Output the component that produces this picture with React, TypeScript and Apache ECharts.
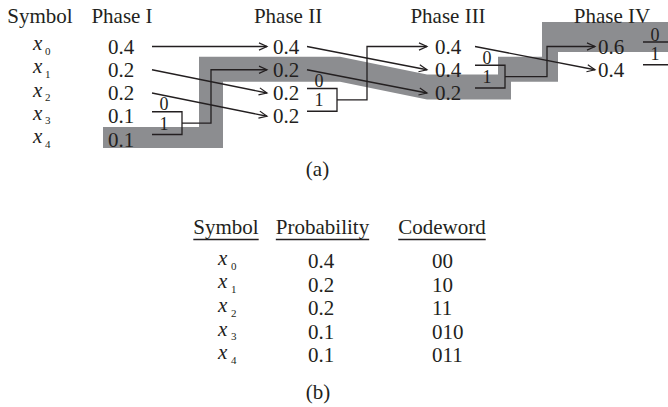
import React, { useEffect, useRef } from "react";
import * as echarts from "echarts";

// ---------------- data ----------------
const symbolIndices = ["0", "1", "2", "3", "4"];
const phaseNames = ["Phase I", "Phase II", "Phase III", "Phase IV"];
const phase1 = [0.4, 0.2, 0.2, 0.1, 0.1];
const phase2 = [0.4, 0.2, 0.2, 0.2];
const phase3 = [0.4, 0.4, 0.2];
const phase4 = [0.6, 0.4];
const phases = [phase1, phase2, phase3, phase4];
// re-ordering arrows: [from phase, from row, to row in next phase]
const moves = [
  [0, 0, 0],
  [0, 1, 2],
  [0, 2, 3],
  [1, 0, 1],
  [1, 1, 2],
  [2, 0, 1],
];
// merges of the two smallest: [phase, upper row of pair, row of sum in next phase]
const merges = [
  [0, 3, 1],
  [1, 2, 0],
  [2, 1, 0],
  [3, 0, -1],
];
const branchBits = ["0", "1"];
const highlightRows = [4, 1, 2, 0];
const tableHeaders = ["Symbol", "Probability", "Codeword"];
const probabilities = [0.4, 0.2, 0.2, 0.1, 0.1];
const codewords = ["00", "10", "11", "010", "011"];
const captions = ["(a)", "(b)"];

// ---------------- layout / style ----------------
const W = 668;
const H = 407;
const INK = "#231f20";
const BAND = "#8c8d90";
const FONT = '"Liberation Serif", "Times New Roman", serif';
const FS = 21;
const BIT_FS = 18;
const LAY = {
  headerY: 15.5,
  symbolHeaderX: 40,
  symbolX: 33,
  subDx: 12,
  rowY0: 46.5,
  rowDy: 23.25,
  phaseHeaderX: [122, 288, 448, 612],
  valLeft: [108, 273, 435, 598],
  outX: [152, 307, 475, 643],
  tipX: [0, 267, 427, 595],
  riseX: [211, 367, 547],
  bracketW: 30,
  bitDx: 12,
  captionA: [317.5, 169],
  tableHeaderY: 227,
  underlineY: 239.5,
  tableColX: [226, 322.5, 442],
  tableRowY0: 261,
  tableRowDy: 23.6,
  tableSymX: 218,
  tableProbX: 308,
  tableCodeX: 432,
  captionB: [318, 392],
};
const rowY = (r: number) => LAY.rowY0 + LAY.rowDy * r;
const tRowY = (r: number) => LAY.tableRowY0 + LAY.tableRowDy * r;
const bracket = (r: number) => {
  const yt = rowY(r) - 4.5;
  const yb = rowY(r + 1) - 5;
  return { yt, yb, ym: (yt + yb) / 2 };
};

function measure(text: string, size: number) {
  const c = document.createElement("canvas").getContext("2d");
  if (!c) return text.length * size * 0.5;
  c.font = `${size}px "Liberation Serif"`;
  return c.measureText(text).width;
}

type Txt = { t: string; x: number; y: number; align: string; size?: number; italic?: boolean };
type Seg = { pts: number[][]; arrow: boolean };

function buildTexts(): Txt[] {
  const T: Txt[] = [];
  T.push({ t: "Symbol", x: LAY.symbolHeaderX, y: LAY.headerY, align: "center" });
  phaseNames.forEach((n, k) => T.push({ t: n, x: LAY.phaseHeaderX[k], y: LAY.headerY, align: "center" }));
  symbolIndices.forEach((s, i) => {
    T.push({ t: "x", x: LAY.symbolX, y: rowY(i) - 3.3, align: "left", italic: true });
    T.push({ t: s, x: LAY.symbolX + LAY.subDx, y: rowY(i) + 4, align: "left", size: 11 });
  });
  phases.forEach((vals, k) =>
    vals.forEach((v, i) => T.push({ t: v.toFixed(1), x: LAY.valLeft[k], y: rowY(i), align: "left" }))
  );
  merges.forEach(([p, r]) => {
    const b = bracket(r);
    T.push({ t: branchBits[0], x: LAY.outX[p] + LAY.bitDx, y: b.yt - 7.5, align: "center", size: BIT_FS });
    T.push({ t: branchBits[1], x: LAY.outX[p] + LAY.bitDx, y: b.ym + 0.5, align: "center", size: BIT_FS });
  });
  T.push({ t: captions[0], x: LAY.captionA[0], y: LAY.captionA[1], align: "center" });
  tableHeaders.forEach((h, j) => T.push({ t: h, x: LAY.tableColX[j], y: LAY.tableHeaderY, align: "center" }));
  symbolIndices.forEach((s, i) => {
    T.push({ t: "x", x: LAY.tableSymX, y: tRowY(i) - 3.3, align: "left", italic: true });
    T.push({ t: s, x: LAY.tableSymX + LAY.subDx + 1, y: tRowY(i) + 4.5, align: "left", size: 11 });
    T.push({ t: probabilities[i].toFixed(1), x: LAY.tableProbX, y: tRowY(i), align: "left" });
    T.push({ t: codewords[i], x: LAY.tableCodeX, y: tRowY(i), align: "left" });
  });
  T.push({ t: captions[1], x: LAY.captionB[0], y: LAY.captionB[1], align: "center" });
  return T;
}

function buildSegs(): Seg[] {
  const S: Seg[] = [];
  moves.forEach(([p, a, b]) =>
    S.push({ pts: [[LAY.outX[p], rowY(a)], [LAY.tipX[p + 1], rowY(b)]], arrow: true })
  );
  merges.forEach(([p, r, t]) => {
    const x0 = LAY.outX[p];
    const x1 = x0 + LAY.bracketW;
    const { yt, yb, ym } = bracket(r);
    if (t < 0) {
      S.push({ pts: [[x0, yt], [W + 10, yt]], arrow: false });
      S.push({ pts: [[x0, yb], [W + 10, yb]], arrow: false });
    } else {
      S.push({ pts: [[x0, yt], [x1, yt], [x1, yb], [x0, yb]], arrow: false });
      S.push({
        pts: [[x1, ym], [LAY.riseX[p], ym], [LAY.riseX[p], rowY(t)], [LAY.tipX[p + 1], rowY(t)]],
        arrow: true,
      });
    }
  });
  tableHeaders.forEach((h, j) => {
    const w = measure(h, FS);
    const c = LAY.tableColX[j];
    S.push({ pts: [[c - w / 2, LAY.underlineY], [c + w / 2, LAY.underlineY]], arrow: false });
  });
  return S;
}

function buildBand(): number[][] {
  const [r1, r2, r3, r4] = highlightRows;
  const bm = bracket(merges[2][1]).ym;
  const yA = rowY(r1);
  const yB = rowY(r2);
  const yC = rowY(r3);
  const yD = rowY(r4);
  const x0 = LAY.valLeft[0] - 5;
  const v1 = LAY.riseX[0];
  const s2 = LAY.outX[1] + 33;
  const t3 = LAY.tipX[2];
  const e3 = LAY.outX[2] + 36;
  const st = LAY.outX[2] + 23;
  const v3 = LAY.riseX[2];
  return [
    [x0, yA - 12.5],
    [v1 - 12, yA - 12.5],
    [v1 - 12, yB - 13],
    [s2, yB - 13],
    [t3, yC - 18.5],
    [st, yC - 18.5],
    [st, bm - 20],
    [v3 - 5, bm - 20],
    [v3 - 5, yD - 24.5],
    [W + 10, yD - 24.5],
    [W + 10, yD + 5.5],
    [v3 + 11, yD + 5.5],
    [v3 + 11, bm + 5],
    [e3, bm + 5],
    [e3, yC + 6.5],
    [t3, yC + 6.5],
    [s2, yB + 12],
    [v1 + 12, yB + 12],
    [v1 + 12, yA + 8.5],
    [x0, yA + 8.5],
  ];
}

export default function App() {
  const ref = useRef<HTMLDivElement>(null);
  useEffect(() => {
    if (!ref.current) return;
    const chart = echarts.init(ref.current, undefined, { renderer: "svg" });
    const texts = buildTexts();
    const segs = buildSegs();
    const band = buildBand();
    chart.setOption({
      animation: false,
      backgroundColor: "#ffffff",
      grid: { left: 0, right: 0, top: 0, bottom: 0 },
      xAxis: { type: "value", min: 0, max: W, show: false },
      yAxis: { type: "value", min: 0, max: H, inverse: true, show: false },
      series: [
        {
          type: "custom",
          name: "band",
          silent: true,
          z: 1,
          data: [band[0]],
          renderItem: (_p: any, api: any) => ({
            type: "polygon",
            shape: { points: band.map((q) => api.coord(q)) },
            style: { fill: BAND, stroke: "none" },
          }),
        },
        {
          type: "custom",
          name: "lines",
          silent: true,
          z: 2,
          data: segs.map((s) => s.pts[0]),
          renderItem: (params: any, api: any) => {
            const s = segs[params.dataIndex];
            const pts = s.pts.map((q) => api.coord(q));
            const children: any[] = [
              {
                type: "polyline",
                shape: { points: pts },
                style: { stroke: INK, lineWidth: 1.3, fill: null },
              },
            ];
            if (s.arrow) {
              const a = pts[pts.length - 2];
              const b = pts[pts.length - 1];
              const dx = b[0] - a[0];
              const dy = b[1] - a[1];
              const L = Math.hypot(dx, dy) || 1;
              const ux = dx / L;
              const uy = dy / L;
              const len = 8;
              const hw = 3.6;
              children.push({
                type: "polyline",
                shape: {
                  points: [
                    [b[0] - ux * len - uy * hw, b[1] - uy * len + ux * hw],
                    [b[0], b[1]],
                    [b[0] - ux * len + uy * hw, b[1] - uy * len - ux * hw],
                  ],
                },
                style: { stroke: INK, lineWidth: 1.2, fill: null },
              });
            }
            return { type: "group", children };
          },
        },
        {
          type: "custom",
          name: "texts",
          silent: true,
          z: 3,
          data: texts.map((t) => [t.x, t.y]),
          renderItem: (params: any, api: any) => {
            const it = texts[params.dataIndex];
            const p = api.coord([it.x, it.y]);
            return {
              type: "text",
              x: p[0],
              y: p[1],
              style: {
                text: it.t,
                fill: INK,
                fontSize: it.size || FS,
                fontFamily: FONT,
                fontStyle: it.italic ? "italic" : "normal",
                align: it.align,
                textAlign: it.align,
                verticalAlign: "middle",
                textVerticalAlign: "middle",
              },
            };
          },
        },
      ],
    });
    return () => chart.dispose();
  }, []);
  return (
    <div
      ref={ref}
      style={{ position: "fixed", left: 0, top: 0, width: W, height: H }}
    />
  );
}
